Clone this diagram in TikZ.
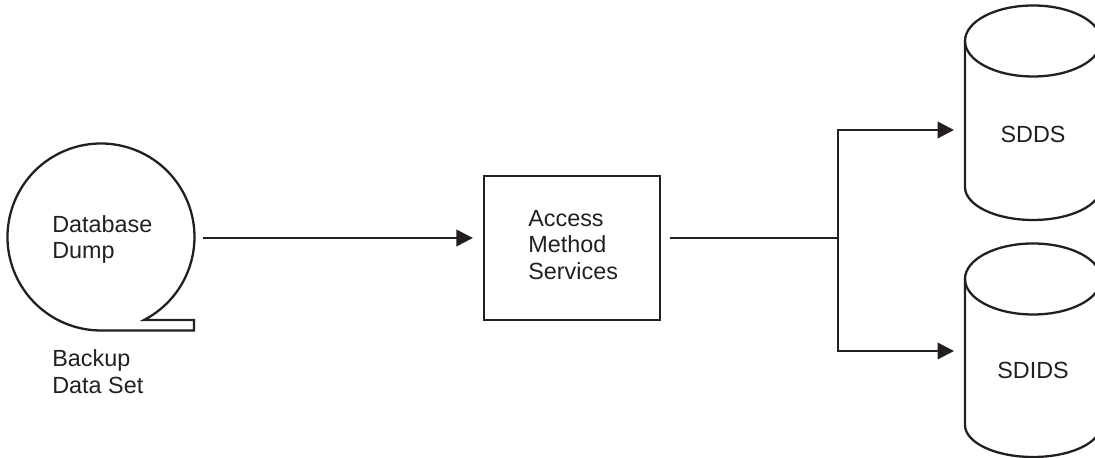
\documentclass[tikz,border=0pt]{standalone}
\usepackage{fontspec}
\setmainfont{Liberation Sans}
\usetikzlibrary{arrows.meta}
\definecolor{inkblack}{HTML}{231F20}
\tikzset{
    lbl/.style={inner sep=0pt, align=left, text=inkblack, font=\fontsize{13.3}{15.3}\selectfont},
    line/.style={draw=inkblack, line width=1.3pt},
    flow/.style={draw=inkblack, line width=1.3pt, -{Triangle[length=3.3mm,width=3.3mm]}}}

\begin{document}
\begin{tikzpicture}
\useasboundingbox (0,0) rectangle (21.9,9.16);

%Tape
\node[circle, inner sep=0pt, minimum size=3.74cm] (tape) at (2.02,4.4) {};
\draw [line] (2.02,2.55)--(3.88,2.55)--(3.88,2.76)--(2.88,2.76) arc (-62.6:270:1.87)--cycle;
\node[lbl, anchor=west] (dump) at (1.04,4.37) {Database\\Dump};
\node[lbl, anchor=west] (backup) at (1.04,1.72) {Backup\\Data Set};

%Services
\node[draw=inkblack, line width=1.3pt, inner sep=0pt, minimum width=3.52cm, minimum height=2.88cm] (ams) at (11.44,4.2) {};
\node[lbl, anchor=west] (amstext) at (10.56,4.26) {Access\\Method\\Services};

%First volume
\coordinate (sdds in) at (19.08,6.56);
\draw [line] (19.30,8.34) arc (180:-180:1.36 and 0.71);
\draw [line] (19.30,8.34)--(19.30,5.42) arc (180:360:1.36 and 0.66)--(22.02,8.34);
\node[lbl] (sdds) at (20.66,6.47) {SDDS};

%Second volume
\coordinate (sdids in) at (19.08,2.14);
\draw [line] (19.30,3.58) arc (180:-180:1.36 and 0.71);
\draw [line] (19.30,3.58)--(19.30,0.66) arc (180:360:1.36 and 0.64)--(22.02,3.58);
\node[lbl] (sdids) at (20.66,1.75) {SDIDS};

%Connectors
\coordinate (junc) at (16.76,4.4);
\draw [flow, shorten <=1.6mm, shorten >=2.0mm](tape.east)--(tape.east -| ams.west);
\draw [line, shorten <=1.8mm](ams.east |- junc)--(junc);
\draw [flow](junc)|-(sdds in);
\draw [flow](junc)|-(sdids in);
\end{tikzpicture}
\end{document}
